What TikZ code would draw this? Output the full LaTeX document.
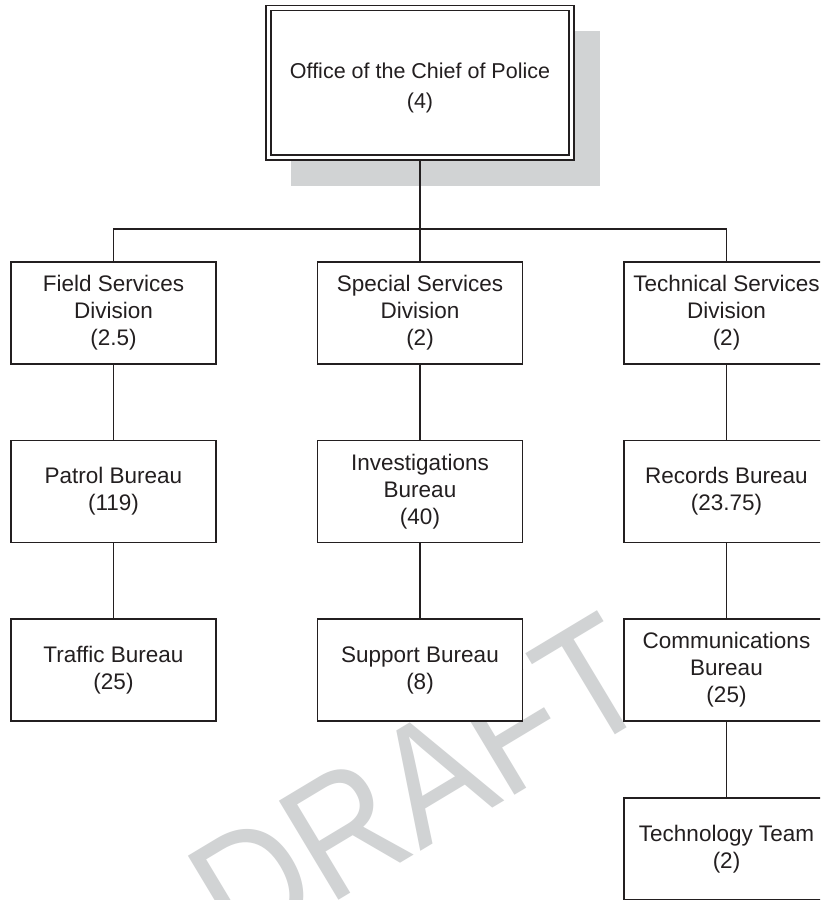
\documentclass[tikz,border=0pt]{standalone}
\usepackage{fontspec}
\setmainfont{Liberation Sans}
\definecolor{ink}{HTML}{231F20}
\definecolor{wmgray}{HTML}{D1D3D4}
\begin{document}
\begin{tikzpicture}[x=1pt,y=-1pt,
  orgbox/.style={draw=ink, line width=1.6pt, fill=white, rectangle,
    minimum width=205pt, minimum height=102pt, inner sep=0pt, align=center,
    font=\fontsize{22.5}{27}\selectfont, text=ink},
  chiefbox/.style={draw=ink, line width=1.5pt, double=white, double distance=3.4pt,
    fill=white, rectangle, minimum width=303pt, minimum height=149.5pt, inner sep=0pt},
  chieftext/.style={align=center, inner sep=0pt, text=ink,
    font=\fontsize{21.5}{30.5}\selectfont},
  link/.style={draw=ink, line width=1.4pt},
  watermark/.style={text=wmgray, inner sep=0pt, font=\fontsize{168}{168}\selectfont}
  ]
\clip (0,0) rectangle (820,900);
\fill[white] (0,0) rectangle (820,900);
% watermark
\node[watermark, rotate=31, xscale=0.88, anchor=base west] (wm) at (237,962) {DRAFT};
% shadow and chief
\fill[wmgray] (291,31) rectangle (600,186);
\node[chiefbox] (chief) at (420,82.75) {};
\node[chieftext] (chieftxt) at (420,88) {Office of the Chief of Police\\(4)};
% divisions
\node[orgbox] (fsd) at (113.5,313) {Field Services\\Division\\(2.5)};
\node[orgbox] (ssd) at (420,313) {Special Services\\Division\\(2)};
\node[orgbox] (tsd) at (726.5,313) {Technical Services\\Division\\(2)};
% bureaus
\node[orgbox] (pat) at (113.5,491.5) {Patrol Bureau\\(119)};
\node[orgbox] (inv) at (420,491.5) {Investigations\\Bureau\\(40)};
\node[orgbox] (rec) at (726.5,491.5) {Records Bureau\\(23.75)};
\node[orgbox] (trf) at (113.5,670) {Traffic Bureau\\(25)};
\node[orgbox] (sup) at (420,670) {Support Bureau\\(8)};
\node[orgbox] (com) at (726.5,670) {Communications\\Bureau\\(25)};
\node[orgbox] (tech) at (726.5,849) {Technology Team\\(2)};
% connectors
\coordinate (busL) at (113.5,229);
\coordinate (busM) at (420,229);
\coordinate (busR) at (726.5,229);
\draw[link, shorten <=2.4pt] (chief.south) -- (busM);
\draw[link] (fsd.north) -- (busL) -- (busR) -- (tsd.north);
\draw[link] (busM) -- (ssd.north);
\draw[link] (fsd.south) -- (pat.north);
\draw[link] (pat.south) -- (trf.north);
\draw[link] (ssd.south) -- (inv.north);
\draw[link] (inv.south) -- (sup.north);
\draw[link] (tsd.south) -- (rec.north);
\draw[link] (rec.south) -- (com.north);
\draw[link] (com.south) -- (tech.north);
\end{tikzpicture}
\end{document}
